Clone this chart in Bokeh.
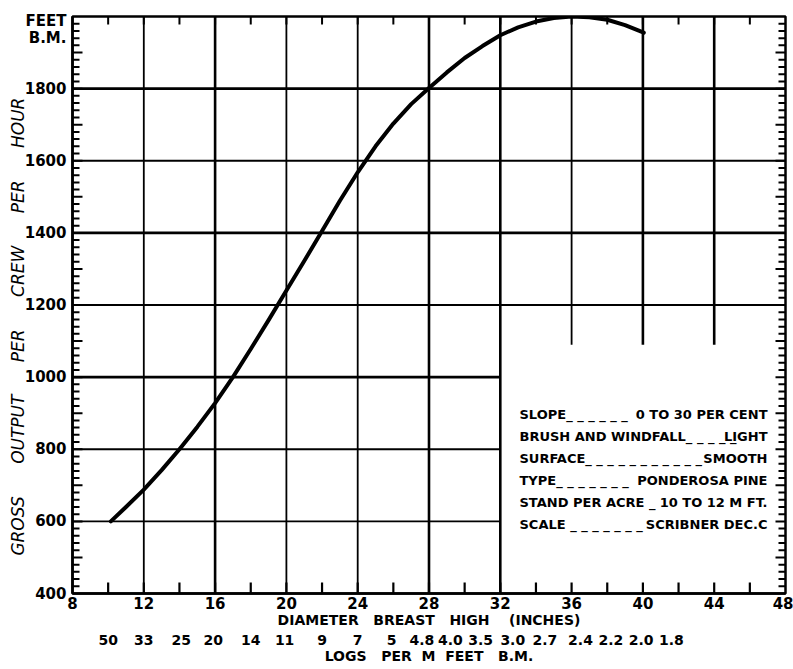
from math import pi

from bokeh.embed import file_html
from bokeh.models import (ColumnDataSource, CustomJSTickFormatter, FixedTicker,
                          Label, LinearAxis, Range1d)
from bokeh.plotting import figure
from bokeh.resources import INLINE

# Gross output per crew per hour (feet B.M.) against diameter breast high (inches)
dbh_in = [10.15, 11, 12, 13, 14, 15, 16, 17, 18, 19, 20, 21, 22, 23, 24, 25, 26,
          27, 28, 29, 30, 31, 32, 33, 34, 35, 36, 37, 38, 39, 40.05]
output_fbm = [600, 640, 688, 742, 800, 862, 928, 1000, 1078, 1158, 1240, 1322, 1405,
              1489, 1568, 1640, 1703, 1757, 1802, 1845, 1885, 1918, 1948, 1970, 1986,
              1996, 2000, 1998, 1991, 1976, 1955]

# Axis ticks
dbh_ticks = list(range(8, 49, 4))
output_ticks = list(range(400, 1801, 200))

# Logs per M feet B.M., written under the matching diameters
logs_labels = ["50", "33", "25", "20", "14", "11", "9", "7", "5", "4.8", "4.0", "3.5",
               "3.0", "2.7", "2.4", "2.2", "2.0", "1.8"]
logs_at_dbh = [10.0, 12.0, 14.1, 15.9, 18.0, 19.9, 22.0, 24.0, 25.9, 27.6, 29.2, 30.9,
               32.7, 34.5, 36.5, 38.2, 39.9, 41.6]

# Working conditions for the curve
cond_keys = ["SLOPE", "BRUSH AND WINDFALL", "SURFACE", "TYPE", "STAND PER ACRE", "SCALE"]
cond_values = ["0 TO 30 PER CENT", "LIGHT", "SMOOTH", "PONDEROSA PINE",
               "10 TO 12 M FT.", "SCRIBNER DEC.C"]

FONT = "DejaVu Sans"
X0, X1, Y0, Y1 = 8, 48, 400, 2000
FRAME_W, FRAME_H = 713.0, 577.0


# Page-pixel offsets converted to data units
def px_x(n):
    return n * (X1 - X0) / FRAME_W


def px_y(n):
    return n * (Y1 - Y0) / FRAME_H


p = figure(width=793, height=669, x_range=Range1d(X0, X1), y_range=Range1d(Y0, Y1),
           output_backend="svg", toolbar_location=None,
           x_axis_type=None, y_axis_type=None,
           min_border_left=72, min_border_right=8, min_border_top=16,
           min_border_bottom=76, background_fill_color="white",
           border_fill_color="white")
p.outline_line_color = "black"
p.outline_line_width = 2.5


def style_axis(ax, size="15px"):
    ax.axis_line_color = "black"
    ax.axis_line_width = 2.5
    ax.major_tick_in = 0
    ax.major_tick_out = 0
    ax.minor_tick_in = 0
    ax.minor_tick_out = 0
    ax.major_tick_line_color = None
    ax.minor_tick_line_color = None
    ax.major_label_text_font = FONT
    ax.major_label_text_font_style = "bold"
    ax.major_label_text_font_size = size
    ax.major_label_text_color = "black"
    ax.axis_label_text_font = FONT
    ax.axis_label_text_font_style = "bold"
    ax.axis_label_text_font_size = "14px"
    ax.axis_label_text_color = "black"


# Output scale on the left; the unit is written at the head of the scale
unit_text = ["FEET", "B.M."]
unit_at = [Y1 - px_y(4), Y1 - px_y(21)]
gap = "\u00a0" * 6
left = LinearAxis(
    ticker=FixedTicker(ticks=output_ticks + unit_at),
    formatter=CustomJSTickFormatter(
        args=dict(unit_at=unit_at, unit_text=unit_text),
        code="const i = unit_at.indexOf(tick); return i >= 0 ? unit_text[i] : tick.toFixed(0);"),
    axis_label=gap.join(["GROSS", "OUTPUT", "PER", "CREW", "PER", "HOUR"]) + "\u00a0" * 8)
style_axis(left)
left.major_label_standoff = 6
left.axis_label_standoff = -6
left.axis_label_text_font_style = "italic"
left.axis_label_text_font_size = "17px"
p.add_layout(left, "left")

# Diameter scale below
bottom = LinearAxis(ticker=FixedTicker(ticks=dbh_ticks),
                    axis_label="DIAMETER\u00a0\u00a0\u00a0BREAST\u00a0\u00a0\u00a0HIGH"
                               "\u00a0\u00a0\u00a0\u00a0(INCHES)")
style_axis(bottom)
bottom.major_label_standoff = 3
bottom.axis_label_standoff = 0
p.add_layout(bottom, "below")

logs_axis = LinearAxis(
    ticker=FixedTicker(ticks=logs_at_dbh),
    formatter=CustomJSTickFormatter(
        args=dict(at=logs_at_dbh, labels=logs_labels),
        code="const i = at.indexOf(tick); return i >= 0 ? labels[i] : labels[index];"),
    axis_label="LOGS\u00a0\u00a0\u00a0PER\u00a0\u00a0M\u00a0\u00a0FEET\u00a0\u00a0\u00a0B.M.")
style_axis(logs_axis, "14px")
logs_axis.axis_line_color = None
logs_axis.major_label_standoff = 4
logs_axis.axis_label_standoff = 0
p.add_layout(logs_axis, "below")

# Ruling: the lower-right panel holding the conditions is left open
grid_x = [12, 16, 20, 24, 28, 32, 36, 40, 44]
grid_y = [600, 800, 1000, 1200, 1400, 1600, 1800]
panel_left, panel_top = 32, 1090
heavy_x = {16, 28, 32, 40, 44}
heavy_y = {1000, 1400, 1800}

vert = ColumnDataSource(dict(
    x0=grid_x, x1=grid_x,
    y0=[panel_top if gx > panel_left else Y0 for gx in grid_x],
    y1=[Y1] * len(grid_x),
    w=[2.6 if gx in heavy_x else 1.8 for gx in grid_x]))
horiz = ColumnDataSource(dict(
    x0=[X0] * len(grid_y),
    x1=[panel_left if gy < panel_top else X1 for gy in grid_y],
    y0=grid_y, y1=grid_y,
    w=[2.6 if gy in heavy_y else 1.8 for gy in grid_y]))
p.segment("x0", "y0", "x1", "y1", source=vert, line_width="w", line_color="black")
p.segment("x0", "y0", "x1", "y1", source=horiz, line_width="w", line_color="black")

# Fine divisions on the frame: dash marks centred on the edge, so the inner half shows
fine_x = [float(v) for v in range(X0 + 2, X1, 2)]
fine_y = [float(v) for v in range(Y0 + 20, Y1, 20)]
p.scatter(x=fine_x, y=[float(Y0)] * len(fine_x), marker="dash", angle=pi / 2,
          size=22, line_width=2.2, line_color="black")
p.scatter(x=fine_x, y=[float(Y1)] * len(fine_x), marker="dash", angle=pi / 2,
          size=16, line_width=2, line_color="black")
edge_len = [20 if v % 100 == 0 else 14 for v in fine_y]
p.scatter(x=[float(X0)] * len(fine_y), y=fine_y, marker="dash", size=edge_len,
          line_width=2, line_color="black")
p.scatter(x=[float(X1)] * len(fine_y), y=fine_y, marker="dash", size=edge_len,
          line_width=2, line_color="black")

# Output curve
p.line(dbh_in, output_fbm, line_width=4, line_color="black",
       line_join="round", line_cap="round")

# Conditions panel
leaders = ["_ _ _ _ _ _", "_ _ _ _ _", "_ _ _ _ _ _ _ _ _ _ _", "_ _ _ _ _ _ _\u00a0",
           "\u00a0_", "\u00a0_ _ _ _ _ _ _"]
for i, (k, v) in enumerate(zip(cond_keys, cond_values)):
    yy = Y0 + px_y(593 - (414 + 22 * i))
    p.add_layout(Label(x=X0 + px_x(519 - 72), y=yy, text=k + leaders[i],
                       text_align="left", text_baseline="middle", text_font=FONT,
                       text_font_style="bold", text_font_size="13px",
                       text_color="black"))
    p.add_layout(Label(x=X0 + px_x(767 - 72), y=yy, text=v, text_align="right",
                       text_baseline="middle", text_font=FONT,
                       text_font_style="bold", text_font_size="13px",
                       text_color="black"))

open("out.html", "w").write(file_html(p, INLINE))
